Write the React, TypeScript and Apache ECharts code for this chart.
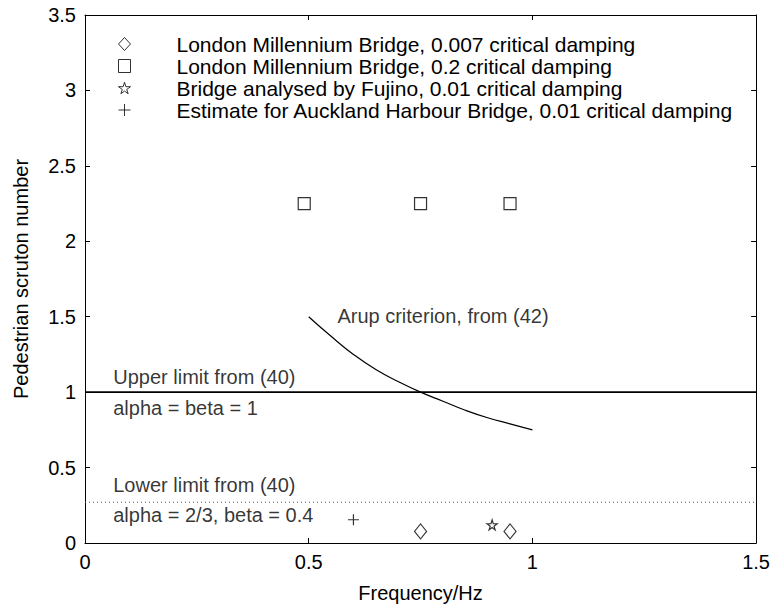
import React, { useEffect, useRef } from "react";
import * as echarts from "echarts";

const FONT = "Liberation Sans, Arial, Helvetica, sans-serif";

// Legend / series names
const seriesNames = [
  "London Millennium Bridge, 0.007 critical damping",
  "London Millennium Bridge, 0.2 critical damping",
  "Bridge analysed by Fujino, 0.01 critical damping",
  "Estimate for Auckland Harbour Bridge, 0.01 critical damping",
];

// Data points (frequency Hz, pedestrian scruton number)
const lmb007F = [0.75, 0.95];
const lmb007S = [0.077, 0.077];
const lmb02F = [0.49, 0.75, 0.95];
const lmb02S = [2.25, 2.25, 2.25];
const fujinoF = [0.91];
const fujinoS = [0.12];
const aucklandF = [0.6];
const aucklandS = [0.154];

// Arup criterion curve
const arupF = [0.5, 0.55, 0.6, 0.65, 0.7, 0.75, 0.8, 0.85, 0.9, 0.95, 1.0];
const arupS = [1.5, 1.37, 1.25, 1.15, 1.07, 1.0, 0.94, 0.88, 0.83, 0.79, 0.75];

// Limits
const limitF = [0, 1.5];
const upperS = [1, 1];
const lowerS = [0.27, 0.27];

// Annotation texts
const noteTexts = [
  "Upper limit from (40)",
  "alpha = beta = 1",
  "Lower limit from (40)",
  "alpha = 2/3, beta = 0.4",
  "Arup criterion, from (42)",
];
const noteF = [0.062, 0.062, 0.062, 0.062, 0.563];
const noteS = [1.103, 0.898, 0.383, 0.185, 1.506];

// Axis ticks
const xTicks = { min: 0, max: 1.5, interval: 0.5 };
const yTicks = { min: 0, max: 3.5, interval: 0.5 };

const zip = (a: number[], b: number[]) => a.map((v, i) => [v, b[i]]);

const STAR =
  "path://M50,0 L61,35 L98,35 L68,57 L79,91 L50,70 L21,91 L32,57 L2,35 L39,35 Z";
const PLUS = "path://M50,0 L50,100 M0,50 L100,50";

export default function App() {
  const ref = useRef<HTMLDivElement>(null);
  useEffect(() => {
    if (!ref.current) return;
    const chart = echarts.init(ref.current, undefined, { renderer: "svg" });
    const axisCommon = {
      axisLine: { show: true, onZero: false, lineStyle: { color: "#000", width: 1 } },
      axisTick: { show: true, inside: true, length: 5, lineStyle: { color: "#000" } },
      splitLine: { show: false },
    };
    const hollow = { color: "#fff", borderColor: "#000", borderWidth: 1.2 };
    chart.setOption({
      animation: false,
      backgroundColor: "#fff",
      textStyle: { fontFamily: FONT },
      grid: { left: 85, right: 16, top: 15, bottom: 63 },
      legend: {
        data: seriesNames,
        orient: "vertical",
        left: 118,
        top: 33,
        padding: 0,
        itemWidth: 12,
        itemHeight: 13,
        itemGap: 0,
        selectedMode: false,
        itemStyle: { color: "#fff", borderColor: "#000", borderWidth: 1 },
        textStyle: {
          fontSize: 21,
          lineHeight: 22,
          fontFamily: FONT,
          color: "#000",
          padding: [0, 0, 0, 41],
        },
      },
      xAxis: [
        {
          type: "value",
          ...xTicks,
          ...axisCommon,
          name: "Frequency/Hz",
          nameLocation: "middle",
          nameGap: 40,
          nameTextStyle: { fontSize: 20, color: "#000", fontFamily: FONT },
          axisLabel: { fontSize: 20, color: "#000", margin: 9, fontFamily: FONT },
        },
        {
          type: "value",
          position: "top",
          ...xTicks,
          ...axisCommon,
          axisLabel: { show: false },
        },
      ],
      yAxis: [
        {
          type: "value",
          ...yTicks,
          ...axisCommon,
          name: "Pedestrian scruton number",
          nameLocation: "middle",
          nameGap: 54,
          nameTextStyle: { fontSize: 20, color: "#000", fontFamily: FONT },
          axisLabel: { fontSize: 20, color: "#000", margin: 9, fontFamily: FONT },
        },
        {
          type: "value",
          position: "right",
          ...yTicks,
          ...axisCommon,
          axisLabel: { show: false },
        },
      ],
      series: [
        {
          name: "upper",
          type: "line",
          data: zip(limitF, upperS),
          symbol: "none",
          lineStyle: { color: "#000", width: 1.6 },
          silent: true,
        },
        {
          name: "lower",
          type: "line",
          data: zip(limitF, lowerS),
          symbol: "none",
          lineStyle: { color: "#555", width: 1, type: [1, 3] },
          silent: true,
        },
        {
          name: "arup",
          type: "line",
          data: zip(arupF, arupS),
          symbol: "none",
          smooth: true,
          lineStyle: { color: "#000", width: 1.2 },
          silent: true,
        },
        {
          name: seriesNames[0],
          type: "scatter",
          data: zip(lmb007F, lmb007S),
          symbol: "diamond",
          symbolSize: [12, 15],
          itemStyle: hollow,
        },
        {
          name: seriesNames[1],
          type: "scatter",
          data: zip(lmb02F, lmb02S),
          symbol: "rect",
          symbolSize: 12,
          itemStyle: hollow,
        },
        {
          name: seriesNames[2],
          type: "scatter",
          data: zip(fujinoF, fujinoS),
          symbol: STAR,
          symbolSize: 10,
          itemStyle: hollow,
        },
        {
          name: seriesNames[3],
          type: "scatter",
          data: zip(aucklandF, aucklandS),
          symbol: PLUS,
          symbolSize: 11,
          itemStyle: { color: "rgba(0,0,0,0)", borderColor: "#000", borderWidth: 1.2 },
        },
        {
          name: "notes",
          type: "scatter",
          silent: true,
          symbol: "circle",
          symbolSize: 1,
          itemStyle: { color: "rgba(0,0,0,0)" },
          data: noteTexts.map((t, i) => ({
            value: [noteF[i], noteS[i]],
            label: {
              show: true,
              position: "right",
              distance: 0,
              formatter: t,
              fontSize: 20,
              color: "#000",
              fontFamily: FONT,
            },
          })),
        },
      ],
    });
    return () => chart.dispose();
  }, []);
  return (
    <div
      ref={ref}
      style={{ position: "fixed", left: 0, top: 0, width: 773, height: 608 }}
    />
  );
}
